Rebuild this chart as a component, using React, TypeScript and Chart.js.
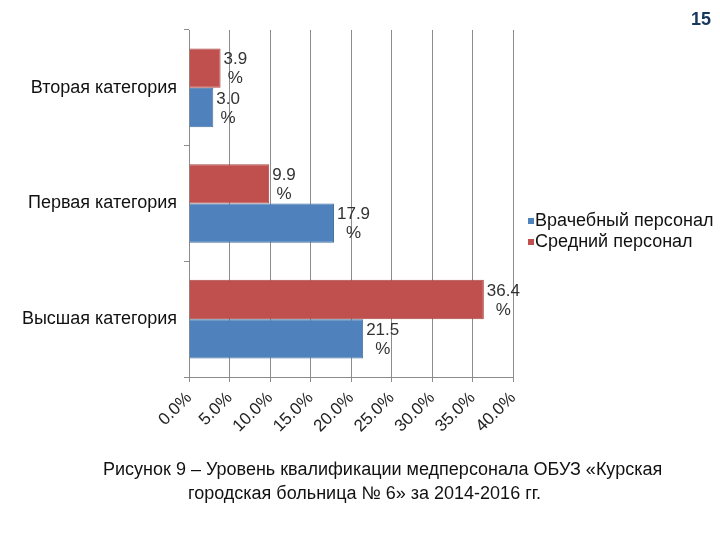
import React, { useEffect, useRef } from "react";
import { Chart, registerables } from "chart.js";

Chart.register(...registerables);

const categories = ["Вторая категория", "Первая категория", "Высшая категория"];
const seriesNames = ["Врачебный персонал", "Средний персонал"];
const doctorValues = [3.0, 17.9, 21.5];
const nurseValues = [3.9, 9.9, 36.4];
const seriesColors = ["#4f81bd", "#c0504d"];
const seriesBorders = ["#44719f", "#a94643"];
const axisMin = 0;
const axisMax = 40;
const axisStep = 5;
const captionLines = [
  "Рисунок 9 – Уровень квалификации медперсонала ОБУЗ «Курская",
  "городская больница № 6» за 2014-2016 гг.",
];
const pageNumber = "15";

const FONT = '"Liberation Sans", Arial, sans-serif';

const extrasPlugin = {
  id: "extras",
  afterDatasetsDraw(chart: any) {
    const ctx = chart.ctx;
    ctx.save();
    ctx.font = `17px ${FONT}`;
    ctx.fillStyle = "#333333";
    ctx.textBaseline = "middle";
    ctx.textAlign = "center";
    chart.data.datasets.forEach((ds: any, di: number) => {
      const meta = chart.getDatasetMeta(di);
      meta.data.forEach((bar: any, i: number) => {
        const v = ds.data[i];
        const num = v.toFixed(1);
        const w = ctx.measureText(num).width;
        const cx = bar.x + 3 + w / 2;
        const top = bar.y - bar.height / 2;
        ctx.fillText(num, cx, top + 11);
        ctx.fillText("%", cx, top + 30);
      });
    });
    ctx.restore();
  },
  afterDraw(chart: any) {
    const ctx = chart.ctx;
    ctx.save();
    // legend
    ctx.font = `18px ${FONT}`;
    ctx.textBaseline = "middle";
    ctx.textAlign = "left";
    const legendOrder = [1, 0];
    legendOrder.forEach((di, k) => {
      const ds = chart.data.datasets[di];
      const y = 221 + k * 21;
      ctx.fillStyle = ds.backgroundColor;
      ctx.fillRect(528, y - 3, 6, 6);
      ctx.fillStyle = "#111111";
      ctx.fillText(ds.label, 535, y);
    });
    // caption
    ctx.font = `18px ${FONT}`;
    ctx.fillStyle = "#111111";
    ctx.fillText(captionLines[0], 103, 470);
    ctx.fillText(captionLines[1], 188, 494);
    // page number
    ctx.font = `bold 18px ${FONT}`;
    ctx.fillStyle = "#17375e";
    ctx.textAlign = "right";
    ctx.fillText(pageNumber, 711, 20);
    ctx.restore();
  },
};

export default function App() {
  const ref = useRef<HTMLCanvasElement | null>(null);
  useEffect(() => {
    if (!ref.current) return;
    const chart = new Chart(ref.current, {
      type: "bar",
      data: {
        labels: categories,
        datasets: [
          {
            label: seriesNames[1],
            data: nurseValues,
            backgroundColor: seriesColors[1],
            borderColor: seriesBorders[1],
            borderWidth: 1,
            categoryPercentage: 0.68,
            barPercentage: 1,
          },
          {
            label: seriesNames[0],
            data: doctorValues,
            backgroundColor: seriesColors[0],
            borderColor: seriesBorders[0],
            borderWidth: 1,
            categoryPercentage: 0.68,
            barPercentage: 1,
          },
        ],
      },
      options: {
        indexAxis: "y",
        animation: false,
        responsive: false,
        layout: { padding: { left: 0, top: 30, right: 207, bottom: 0 } },
        plugins: {
          legend: { display: false },
          tooltip: { enabled: false },
          title: { display: false },
        },
        scales: {
          x: {
            min: axisMin,
            max: axisMax,
            afterFit(scale: any) {
              scale.height = 163;
            },
            ticks: {
              stepSize: axisStep,
              minRotation: 45,
              maxRotation: 45,
              autoSkip: false,
              padding: 6,
              color: "#222222",
              font: { family: FONT, size: 17 },
              callback: (v: any) => Number(v).toFixed(1) + "%",
            },
            grid: {
              color: "#8c8c8c",
              lineWidth: 1,
              tickLength: 5,
            },
            border: { color: "#8c8c8c", width: 1 },
          },
          y: {
            afterFit(scale: any) {
              scale.width = 189;
            },
            ticks: {
              padding: 7,
              color: "#111111",
              font: { family: FONT, size: 18 },
            },
            grid: {
              drawOnChartArea: false,
              tickLength: 5,
              color: "#8c8c8c",
              offset: true,
            },
            border: { color: "#8c8c8c", width: 1 },
          },
        },
      },
      plugins: [extrasPlugin],
    } as any);
    return () => chart.destroy();
  }, []);
  return (
    <div style={{ position: "absolute", left: 0, top: 0, width: 720, height: 540, background: "#fff" }}>
      <canvas ref={ref} width={720} height={540} style={{ width: 720, height: 540 }} />
    </div>
  );
}
